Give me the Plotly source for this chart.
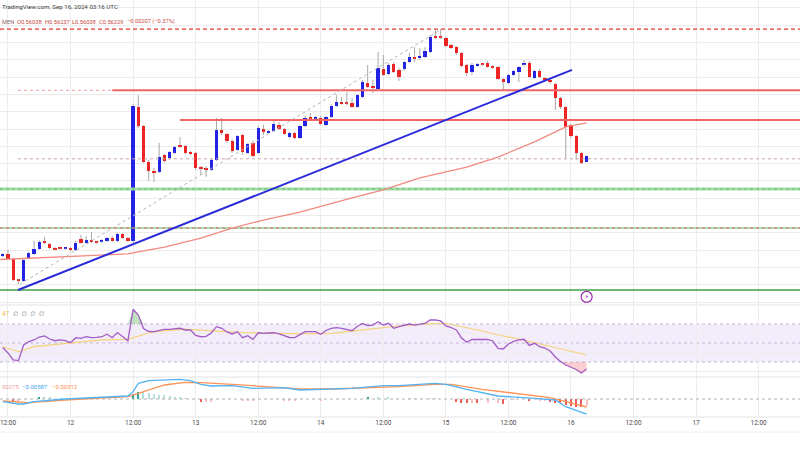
import numpy as np
import pandas as pd
import plotly.graph_objects as go

# ---------------- data (hourly candles, XRP-like) ----------------
first_candle = "2024-09-11 11:00"
times = pd.date_range(first_candle, periods=113, freq="h")

opens = [0.5333, 0.5339, 0.5325, 0.5264, 0.5261, 0.5327, 0.5339, 0.5353, 0.5377, 0.5368,
         0.5356, 0.5356, 0.5355, 0.5356, 0.5351, 0.5382, 0.5371, 0.5379, 0.5374, 0.5376,
         0.5377, 0.5385, 0.5377, 0.5397, 0.5385, 0.5377, 0.5764, 0.5709, 0.5605, 0.5579,
         0.5576, 0.5625, 0.5616, 0.5631, 0.5651, 0.5651, 0.5634, 0.5631, 0.5590, 0.5585,
         0.5582, 0.5611, 0.5697, 0.5686, 0.5666, 0.5640, 0.5683, 0.5631, 0.5660, 0.5631,
         0.5700, 0.5689, 0.5694, 0.5712, 0.5700, 0.5677, 0.5689, 0.5674, 0.5709, 0.5732,
         0.5731, 0.5732, 0.5712, 0.5735, 0.5767, 0.5778, 0.5775, 0.5775, 0.5764, 0.5793,
         0.5833, 0.5824, 0.5816, 0.5874, 0.5859, 0.5888, 0.5871, 0.5874, 0.5894, 0.5908,
         0.5905, 0.5908, 0.5923, 0.5969, 0.5966, 0.5963, 0.5943, 0.5937, 0.5920, 0.5885,
         0.5865, 0.5882, 0.5888, 0.5891, 0.5882, 0.5879, 0.5845, 0.5833, 0.5856, 0.5865,
         0.5888, 0.5891, 0.5848, 0.5868, 0.5848, 0.5842, 0.5830, 0.5790, 0.5764, 0.5712,
         0.5680, 0.5631, 0.56038]
highs = [0.5342, 0.5351, 0.5327, 0.5267, 0.5325, 0.5345, 0.5377, 0.5379, 0.5388, 0.5371,
         0.5359, 0.5359, 0.5359, 0.5359, 0.5377, 0.5394, 0.5391, 0.5403, 0.5377, 0.5382,
         0.5388, 0.5391, 0.5400, 0.5400, 0.5388, 0.5772, 0.5798, 0.5712, 0.5611, 0.5588,
         0.5660, 0.5628, 0.5637, 0.5651, 0.5677, 0.5654, 0.5637, 0.5634, 0.5593, 0.5593,
         0.5616, 0.5732, 0.5732, 0.5689, 0.5671, 0.5683, 0.5686, 0.5660, 0.5666, 0.5709,
         0.5712, 0.5697, 0.5726, 0.5720, 0.5703, 0.5692, 0.5692, 0.5712, 0.5738, 0.5746,
         0.5738, 0.5738, 0.5738, 0.5772, 0.5798, 0.5793, 0.5807, 0.5790, 0.5801, 0.5842,
         0.5885, 0.5842, 0.5923, 0.5914, 0.5891, 0.5894, 0.5877, 0.5897, 0.5920, 0.5937,
         0.5934, 0.5937, 0.5972, 0.5986, 0.5989, 0.5966, 0.5946, 0.5940, 0.5923, 0.5888,
         0.5891, 0.5891, 0.5891, 0.5897, 0.5885, 0.5882, 0.5848, 0.5859, 0.5871, 0.5882,
         0.5900, 0.5897, 0.5871, 0.5874, 0.5850, 0.5845, 0.5833, 0.5793, 0.5767, 0.5715,
         0.5683, 0.5634, 0.56237]
lows = [0.5330, 0.5322, 0.5261, 0.5252, 0.5258, 0.5325, 0.5336, 0.5351, 0.5368, 0.5353,
        0.5351, 0.5353, 0.5351, 0.5348, 0.5348, 0.5368, 0.5368, 0.5371, 0.5368, 0.5371,
        0.5374, 0.5374, 0.5374, 0.5382, 0.5374, 0.5371, 0.5703, 0.5602, 0.5550, 0.5547,
        0.5573, 0.5605, 0.5611, 0.5628, 0.5645, 0.5628, 0.5625, 0.5582, 0.5567, 0.5562,
        0.5579, 0.5608, 0.5683, 0.5660, 0.5631, 0.5637, 0.5625, 0.5628, 0.5619, 0.5628,
        0.5683, 0.5686, 0.5692, 0.5697, 0.5683, 0.5674, 0.5671, 0.5671, 0.5706, 0.5723,
        0.5726, 0.5712, 0.5709, 0.5732, 0.5764, 0.5770, 0.5767, 0.5761, 0.5761, 0.5790,
        0.5819, 0.5804, 0.5813, 0.5853, 0.5856, 0.5862, 0.5839, 0.5868, 0.5891, 0.5894,
        0.5900, 0.5905, 0.5920, 0.5960, 0.5960, 0.5937, 0.5931, 0.5914, 0.5879, 0.5853,
        0.5856, 0.5879, 0.5882, 0.5877, 0.5874, 0.5842, 0.5813, 0.5830, 0.5853, 0.5836,
        0.5882, 0.5848, 0.5845, 0.5848, 0.5839, 0.5830, 0.5755, 0.5758, 0.5616, 0.5674,
        0.5611, 0.5599, 0.56038]
closes = [0.5339, 0.5325, 0.5264, 0.5261, 0.5322, 0.5342, 0.5353, 0.5374, 0.5371, 0.5356,
          0.5353, 0.5355, 0.5356, 0.5351, 0.5371, 0.5371, 0.5379, 0.5374, 0.5373, 0.5377,
          0.5385, 0.5377, 0.5397, 0.5385, 0.5377, 0.5767, 0.5709, 0.5605, 0.5579, 0.5573,
          0.5619, 0.5608, 0.5634, 0.5648, 0.5650, 0.5631, 0.5628, 0.5588, 0.5585, 0.5582,
          0.5611, 0.5697, 0.5689, 0.5666, 0.5637, 0.5680, 0.5634, 0.5657, 0.5622, 0.5703,
          0.5692, 0.5694, 0.5715, 0.5700, 0.5686, 0.5689, 0.5674, 0.5709, 0.5732, 0.5731,
          0.5732, 0.5715, 0.5735, 0.5767, 0.5778, 0.5772, 0.5774, 0.5764, 0.5798, 0.5836,
          0.5822, 0.5819, 0.5877, 0.5856, 0.5885, 0.5865, 0.5850, 0.5894, 0.5908, 0.5903,
          0.5911, 0.5926, 0.5966, 0.5963, 0.5965, 0.5940, 0.5934, 0.5920, 0.5882, 0.5862,
          0.5885, 0.5888, 0.5887, 0.5879, 0.5878, 0.5845, 0.5836, 0.5856, 0.5868, 0.5879,
          0.5891, 0.5850, 0.5868, 0.5850, 0.5842, 0.5836, 0.5790, 0.5764, 0.5706, 0.5680,
          0.5631, 0.5602, 0.56229]

# moving average (salmon line)
ma_times = ["2024-09-11 10:30", "2024-09-11 22:00", "2024-09-12 11:00", "2024-09-12 13:00",
            "2024-09-12 18:00", "2024-09-13 01:00", "2024-09-13 07:00", "2024-09-13 13:00",
            "2024-09-13 20:00", "2024-09-14 06:00", "2024-09-14 12:00", "2024-09-14 19:00",
            "2024-09-15 04:00", "2024-09-15 10:00", "2024-09-15 17:00", "2024-09-15 23:00",
            "2024-09-16 03:00"]
ma_vals = [0.5323, 0.5330, 0.5339, 0.5345, 0.5359, 0.5385, 0.5414, 0.5437, 0.5460,
           0.5501, 0.5524, 0.5559, 0.5590, 0.5619, 0.5663, 0.5706, 0.5718]

# horizontal levels
res_top = 0.5989
res_1 = 0.5812
res_2 = 0.5726
mid_dotted = 0.5614
sup_1 = 0.5527
sup_2 = 0.5414
sup_3 = 0.5235
draw_start = "2024-09-11 13:55"
res_1_solid_from = "2024-09-12 08:00"
res_2_from = "2024-09-12 21:00"

trend_times = ["2024-09-11 13:55", "2024-09-16 00:12"]
trend_prices = [0.5235, 0.5871]
fib_times = ["2024-09-11 14:20", "2024-09-14 22:54"]
fib_prices = [0.5252, 0.5986]

# RSI
rsi = [45.3, 39.5, 32.1, 31.4, 47.9, 51.4, 53.2, 56.3, 57.4, 54.2, 52.4, 53.2, 52.6, 50.3,
       55.6, 54.9, 56.6, 55.6, 56.0, 56.6, 59.2, 55.6, 61.0, 56.3, 52.4, 85.5, 79.5, 65.3,
       62.1, 61.9, 63.2, 64.4, 64.4, 64.7, 65.5, 63.7, 63.7, 57.9, 56.6, 57.0, 60.5, 67.2,
       65.5, 61.6, 59.5, 61.9, 55.6, 57.7, 53.9, 60.8, 60.2, 60.5, 60.8, 59.5, 57.4, 55.8,
       55.6, 58.4, 61.9, 61.9, 61.9, 59.2, 63.2, 65.3, 66.1, 65.5, 64.2, 62.9, 67.4, 70.5,
       68.4, 68.9, 72.4, 68.9, 70.7, 65.5, 67.2, 68.9, 70.0, 68.9, 69.5, 70.7, 74.2, 74.2,
       73.2, 67.9, 66.3, 63.7, 55.3, 50.7, 53.7, 53.9, 54.2, 53.7, 52.1, 44.4, 43.7, 48.9,
       51.6, 53.2, 53.9, 47.4, 49.7, 46.1, 44.7, 41.6, 35.3, 30.5, 26.8, 24.7, 22.1, 18.4,
       22.6]
rsi_ma_idx = [0, 3, 6, 12, 19, 24, 26, 28, 30, 35, 41, 47, 57, 63, 70, 76, 83, 85, 92, 95, 99, 105, 112]
rsi_ma_vals = [46.1, 40.8, 46.1, 49.7, 53.2, 53.9, 57.5, 60.5, 62.5, 64.5, 62.6, 60.8, 59.5,
               60.2, 64.4, 67.9, 70.7, 70.5, 62.6, 58.4, 54.2, 46.8, 37.4]
rsi_band = [30, 50, 70]

# MACD
macd_idx = [0, 3, 4, 6, 12, 19, 24, 25, 26, 28, 31, 34, 36, 38, 40, 44, 48, 54, 57, 61, 67,
            73, 76, 83, 85, 89, 95, 102, 106, 108, 112]
macd_vals = [-0.00105, -0.00195, -0.00195, -0.00105, 0.0, 0.00066, 0.00117, 0.00285, 0.00612,
             0.00714, 0.00741, 0.00768, 0.00714, 0.00573, 0.00507, 0.00519, 0.00417, 0.00441,
             0.00351, 0.00378, 0.00417, 0.00519, 0.00519, 0.00612, 0.00573, 0.00378, 0.00117,
             0.00027, -0.00039, -0.00300, -0.00587]
sig_idx = [0, 5, 12, 24, 26, 31, 35, 38, 44, 51, 57, 63, 70, 76, 83, 86, 92, 99, 105, 108, 112]
sig_vals = [-0.00078, -0.00144, -0.00039, 0.00090, 0.00222, 0.00546, 0.00651, 0.00636, 0.00573,
            0.00480, 0.00390, 0.00390, 0.00441, 0.00480, 0.00573, 0.00573, 0.00378, 0.00195,
            0.00051, -0.00105, -0.00312]
hist_idx = [2, 3, 7, 8, 9, 25, 26, 27, 28, 29, 30, 31, 32, 33, 34, 35, 38, 39, 40, 46, 47, 48,
            54, 55, 56, 61, 70, 72, 74, 78, 79, 82, 83, 87, 88, 89, 90, 91, 93, 95, 96, 98,
            101, 103, 104, 105, 106, 107, 108, 109, 110, 111, 112]
hist_vals = [-0.00105, -0.00105, 0.00059, 0.00059, 0.00059, 0.00183, 0.00285, 0.00261, 0.00222,
             0.00195, 0.00156, 0.00144, 0.00117, 0.00090, 0.00066, 0.00039, -0.00105, -0.00105,
             -0.00105, -0.00078, -0.00078, -0.00078, -0.00078, -0.00078, -0.00078, -0.00059,
             0.00059, 0.00059, 0.00059, 0.00039, 0.00039, 0.00039, 0.00039, -0.00105, -0.00144,
             -0.00168, -0.00144, -0.00168, -0.00168, -0.00168, -0.00195, -0.00039, -0.00078,
             -0.00078, -0.00078, -0.00105, -0.00144, -0.00168, -0.00234, -0.00273, -0.00300,
             -0.00324, -0.00275]

tick_times = pd.date_range("2024-09-11 12:00", "2024-09-17 12:00", freq="12h")
tick_text = ["12:00", "12", "12:00", "13", "12:00", "14", "12:00", "15", "12:00", "16",
             "12:00", "17", "12:00"]

x_start, x_end = "2024-09-11 10:28", "2024-09-17 19:56"

# ---------------- styling ----------------
W, H = 800, 450
BLUE = "#2323e4"
RED = "#ee2424"
GRID = "#ececec"
FONT = "Roboto, DejaVu Sans, sans-serif"


def pfrac(ypix):
    return 1 - ypix / H


o = np.array(opens); h = np.array(highs); l = np.array(lows); c = np.array(closes)
up = c >= o
body_lo = np.minimum(o, c)
body_hi = np.maximum(o, c)
body_h = np.maximum(body_hi - body_lo, 0.00035)

fig = go.Figure()

# candle bodies
fig.add_trace(go.Bar(x=times, y=body_h, base=body_lo, width=0.63 * 3600000,
                     marker=dict(color=[BLUE if u else RED for u in up], line=dict(width=0)),
                     hoverinfo="skip"))
# wicks (upper and lower parts)
wx, wy = [], []
for t, lo, hi, bl, bh in zip(times, l, h, body_lo, body_lo + body_h):
    if hi > bh:
        wx += [t, t, None]; wy += [bh, hi, None]
    if lo < bl:
        wx += [t, t, None]; wy += [lo, bl, None]
fig.add_trace(go.Scatter(x=wx, y=wy, mode="lines", line=dict(color="#a8a8a8", width=1),
                         hoverinfo="skip"))


def seg(x0, x1, yv, color, width, dash=None, yaxis="y"):
    fig.add_trace(go.Scatter(x=[x0, x1], y=[yv, yv], mode="lines",
                             line=dict(color=color, width=width, dash=dash),
                             hoverinfo="skip", yaxis=yaxis))


# levels
seg(x_start, x_end, res_top, "#e53935", 1.3, "4px,3px")
seg(draw_start, res_1_solid_from, res_1, "#f0a0a0", 1, "3px,3px")
seg(res_1_solid_from, x_end, res_1, "#f26464", 2)
seg(res_2_from, x_end, res_2, "#f26464", 2)
seg(draw_start, x_end, mid_dotted, "#c9a3ab", 1, "3px,3px")
seg(x_start, x_end, sup_1, "#a3dba8", 3)
seg(x_start, x_end, sup_1, "#62c070", 1, "3px,3px")
seg(x_start, x_end, sup_2, "#5cb860", 1.2)
seg(x_start, x_end, sup_2, "#e06a6a", 1, "3px,3px")
seg(x_start, x_end, sup_3, "#43a047", 1.5)

# moving average
fig.add_trace(go.Scatter(x=ma_times, y=ma_vals, mode="lines",
                         line=dict(color="#f28a80", width=1.3), hoverinfo="skip"))
# dashed gray tool line
fig.add_trace(go.Scatter(x=fib_times, y=fib_prices, mode="lines",
                         line=dict(color="#b5b5b5", width=1, dash="3px,3px"), hoverinfo="skip"))
# blue trendline
fig.add_trace(go.Scatter(x=trend_times, y=trend_prices, mode="lines",
                         line=dict(color="#2a2ad8", width=2), hoverinfo="skip"))

# event icon
fig.add_trace(go.Scatter(x=[times[-1]], y=[0.5215], mode="markers+text", text=["⚡"],
                         textposition="middle center",
                         textfont=dict(size=7, color="#9c27b0", family=FONT),
                         marker=dict(symbol="circle", size=11, color="white",
                                     line=dict(color="#9c27b0", width=1.2)),
                         hoverinfo="skip"))

# ---------------- RSI pane ----------------
rsi_arr = np.array(rsi)
ob = slice(24, 28)
fig.add_trace(go.Scatter(x=times[ob], y=[rsi_band[2]] * 4, mode="lines", line=dict(width=0),
                         yaxis="y2", hoverinfo="skip"))
fig.add_trace(go.Scatter(x=times[ob], y=np.maximum(rsi_arr[ob], rsi_band[2]), mode="lines",
                         line=dict(width=0), fill="tonexty", fillcolor="rgba(76,175,80,0.35)",
                         yaxis="y2", hoverinfo="skip"))
os_ = slice(106, 113)
fig.add_trace(go.Scatter(x=times[os_], y=[rsi_band[0]] * 7, mode="lines", line=dict(width=0),
                         yaxis="y2", hoverinfo="skip"))
fig.add_trace(go.Scatter(x=times[os_], y=np.minimum(rsi_arr[os_], rsi_band[0]), mode="lines",
                         line=dict(width=0), fill="tonexty", fillcolor="rgba(242,80,90,0.28)",
                         yaxis="y2", hoverinfo="skip"))
fig.add_trace(go.Scatter(x=[times[i] for i in rsi_ma_idx], y=rsi_ma_vals, mode="lines",
                         line=dict(color="#f6d27a", width=1.2), yaxis="y2", hoverinfo="skip"))
fig.add_trace(go.Scatter(x=times, y=rsi, mode="lines",
                         line=dict(color="#a25cc4", width=1.3), yaxis="y2", hoverinfo="skip"))

# ---------------- MACD pane ----------------
hist_colors = []
prev = 0.0
for v in hist_vals:
    if v >= 0:
        hist_colors.append("#26a69a" if v > prev else "#b2dfdb")
    else:
        hist_colors.append("#f05a5a" if v < prev else "#f9c0c0")
    prev = v
fig.add_trace(go.Bar(x=[times[i] for i in hist_idx], y=hist_vals, width=0.22 * 3600000,
                     marker=dict(color=hist_colors, line=dict(width=0)), yaxis="y3",
                     hoverinfo="skip"))
seg(x_start, x_end, 0.0, "#b0b0b0", 1, "3px,3px", yaxis="y3")
fig.add_trace(go.Scatter(x=[times[i] for i in sig_idx], y=sig_vals, mode="lines",
                         line=dict(color="#ff9355", width=1.3), yaxis="y3", hoverinfo="skip"))
fig.add_trace(go.Scatter(x=[times[i] for i in macd_idx], y=macd_vals, mode="lines",
                         line=dict(color="#52b2f2", width=1.3), yaxis="y3", hoverinfo="skip"))

# ---------------- shapes ----------------
shapes = [
    dict(type="rect", xref="paper", x0=0, x1=1, yref="y2", y0=rsi_band[0], y1=rsi_band[2],
         fillcolor="rgba(150,100,220,0.12)", line=dict(width=0), layer="below"),
]
for lv in rsi_band:
    shapes.append(dict(type="line", xref="paper", x0=0, x1=1, yref="y2", y0=lv, y1=lv,
                       line=dict(color="#c4b6d6", width=1, dash="3px,3px"), layer="below"))
for ypix in (305, 377, 417):
    shapes.append(dict(type="line", xref="paper", x0=0, x1=1, yref="paper",
                       y0=pfrac(ypix), y1=pfrac(ypix), line=dict(color="#e2e2e2", width=1)))
shapes.append(dict(type="line", xref="paper", x0=0, x1=1, yref="paper",
                   y0=pfrac(432), y1=pfrac(432), line=dict(color="#f0f0f0", width=1)))


def ann(xpix, ypix, text, color, size=6.3):
    return dict(x=xpix / W, y=pfrac(ypix), xref="paper", yref="paper", text=text,
                showarrow=False, xanchor="left", yanchor="middle",
                font=dict(size=size, color=color, family=FONT))


annotations = [
    ann(0, 6.7, "TradingView.com, Sep 16, 2024 03:16 UTC", "#3c3c3c", 6.2),
    ann(0, 21.7, "MEN", "#8a6a6a", 5.7),
    ann(15, 21.7, "O0.56038", "#c8473f", 5.7),
    ann(43, 21.7, "H0.56237", "#c8473f", 5.7),
    ann(70, 21.7, "L0.56038", "#c8473f", 5.7),
    ann(97, 21.7, "C0.56229", "#c8473f", 5.7),
    ann(125, 21.7, "−0.00207 (−0.37%)", "#c8473f", 5.7),
    ann(0, 313.5, "47", "#e9c04a", 6.3),
    ann(11, 313.5, "∅  ∅  ∅  ∅", "#8a8a8a", 6.3),
    ann(0, 386, "00275", "#f2a3a3", 6.0),
    ann(20, 386, "−0.00587", "#44a6ee", 6.0),
    ann(50, 386, "−0.00312", "#ff8a4c", 6.0),
]

fig.update_layout(
    width=W, height=H, margin=dict(l=0, r=0, t=0, b=0),
    paper_bgcolor="white", plot_bgcolor="white", showlegend=False,
    barmode="overlay", bargap=0, font=dict(family=FONT),
    shapes=shapes, annotations=annotations,
    xaxis=dict(type="date", range=[x_start, x_end], domain=[0, 1], anchor="y3",
               tickvals=tick_times, ticktext=tick_text, ticklabeloverflow="allow",
               tickfont=dict(size=6.5, color="#4a4a4a", family=FONT),
               showgrid=True, gridcolor=GRID, gridwidth=1, zeroline=False,
               showline=False, ticks=""),
    yaxis=dict(domain=[pfrac(304), 1], range=[0.51944, 0.6073], tick0=0.5, dtick=0.005,
               showgrid=True, gridcolor=GRID, showticklabels=False, zeroline=False,
               anchor="x"),
    yaxis2=dict(domain=[pfrac(377), pfrac(306)], range=[14.2, 88.95],
                tickvals=[20, 40.5, 60.5], showgrid=True, gridcolor=GRID,
                showticklabels=False, zeroline=False, anchor="x"),
    yaxis3=dict(domain=[pfrac(417), pfrac(377)], range=[-0.00702, 0.00858],
                showgrid=False, showticklabels=False, zeroline=False, anchor="x"),
)

fig.write_html("out.html", config={"displayModeBar": False},
               post_script="document.body.style.margin='0';document.body.style.overflow='hidden';")
